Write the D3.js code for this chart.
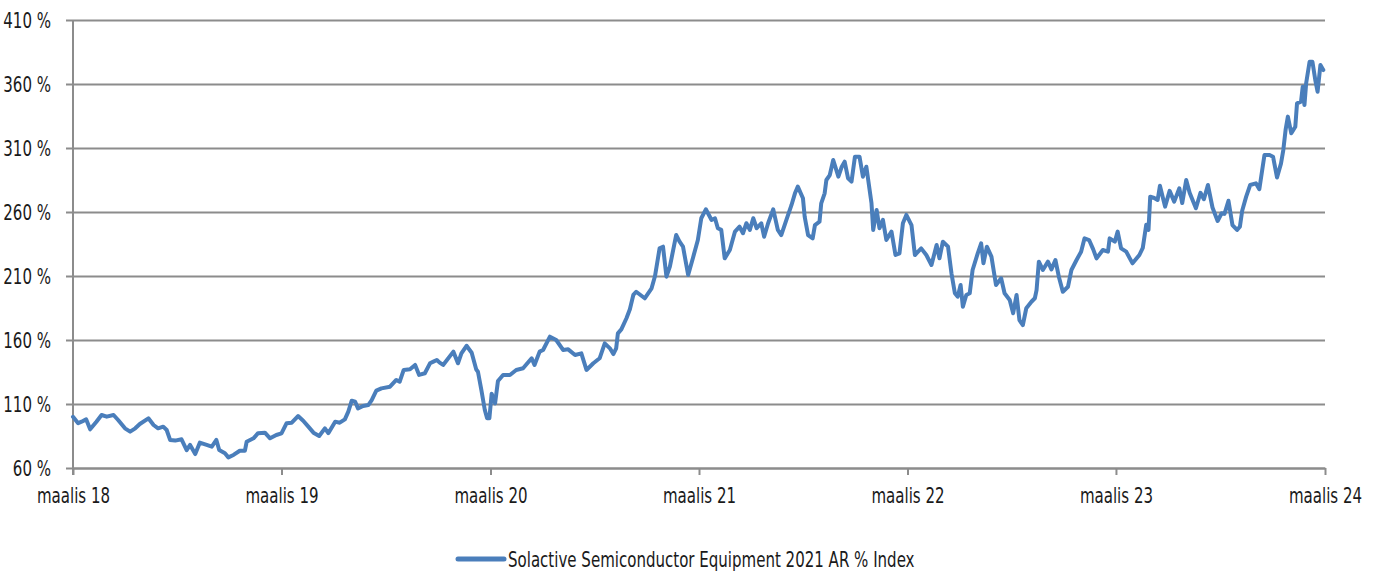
<!DOCTYPE html>
<html>
<head>
<meta charset="utf-8">
<script src="https://cdn.jsdelivr.net/npm/d3@7"></script>
<style>
  html, body { margin: 0; padding: 0; background: #ffffff; }
  svg { display: block; }
  text { font-family: "DejaVu Sans Condensed", "DejaVu Sans", sans-serif; font-stretch: condensed; fill: #1a1a1a; }
</style>
</head>
<body>
<svg id="chart" width="1374" height="575"></svg>
<script>
// ---- Data ----
const startDate = "2018-03-01";
const endDate = "2024-03-01";
// days since 1 March 2018
const days = [0,9,15,23,30,41,50,59,71,79,91,100,109,117,132,141,149,158,164,170,179,190,199,205,214,222,234,243,251,256,266,272,281,292,301,304,316,324,336,345,356,365,374,383,394,403,412,421,431,441,447,459,467,476,482,488,494,499,508,517,523,531,540,555,566,572,579,590,599,606,616,625,631,637,642,648,666,674,680,689,698,706,709,715,721,725,729,733,739,744,753,765,776,788,803,808,817,823,835,846,858,867,879,890,899,911,922,931,940,946,951,954,960,969,975,981,986,1001,1013,1019,1027,1033,1039,1045,1056,1062,1068,1077,1086,1094,1100,1108,1118,1124,1129,1135,1141,1150,1159,1167,1173,1179,1185,1191,1197,1205,1210,1217,1226,1234,1240,1249,1258,1264,1269,1278,1281,1287,1295,1299,1307,1310,1316,1319,1325,1331,1340,1346,1351,1357,1363,1369,1377,1383,1389,1398,1401,1407,1412,1418,1424,1433,1440,1447,1453,1459,1468,1474,1485,1494,1503,1512,1517,1523,1532,1538,1544,1549,1554,1558,1564,1570,1575,1584,1590,1594,1600,1608,1616,1625,1631,1640,1646,1652,1657,1663,1669,1678,1684,1687,1691,1698,1707,1713,1720,1726,1733,1742,1748,1757,1765,1771,1779,1786,1792,1803,1812,1815,1824,1829,1835,1844,1850,1855,1867,1873,1879,1883,1886,1893,1899,1903,1912,1920,1928,1937,1942,1949,1955,1966,1974,1980,1987,1995,2004,2011,2016,2023,2030,2038,2043,2047,2054,2061,2071,2077,2086,2095,2101,2108,2115,2119,2123,2127,2133,2140,2143,2150,2153,2156,2159,2165,2170,2175,2179,2184,2189];
const indexValues = [100,95,96.2,98,90.2,96.2,101.4,100.1,101.4,97.5,91,88.4,91,94.4,98.8,93.6,91,92.3,89.7,81.9,81.4,82.4,74,78,70.9,79.8,78,76.7,81.9,74,71.5,68.3,70.2,73.5,73.5,80.5,83.2,87.2,87.6,83.2,85.8,87.1,95,95.4,100.6,96.9,92.3,87.6,85,91,87.2,96.2,95.4,98,104,112.6,111.8,106.6,108.4,109.2,113.1,120.4,122.2,123.5,128.8,127.4,136.6,137.1,140.5,132.7,134,141.8,143.1,144.4,142.3,140.5,150.9,141.8,149.6,155.5,150,137,135.2,120.9,105.3,98.8,98.8,118,110.5,128,132.7,132.7,136.6,137.9,145.7,140.5,150.9,152.2,162.6,160,152.2,152.7,148.3,149.6,136.6,141.8,145.7,157.4,153.5,149,153.5,165.2,168.3,177,184,195.2,197.7,192.6,200.4,210,231.6,232.9,209.5,217.3,242,236.8,232.9,210.8,225.1,238.1,255.1,262.1,253.8,255.1,247.3,246,223.8,230.3,244.7,248.5,243.4,251.2,246,255.1,247.3,251.2,240.7,251.2,262.1,246,242,253.8,265.5,274.6,279.8,270.7,256.4,242,239.4,249.8,252.4,266.8,274.6,285,288.9,300.6,287.6,295.4,299.3,286.3,283.7,303.2,303.2,287.6,295.4,266.8,246,261.6,247.3,253.8,238.1,244.7,226.4,227.7,251.2,257.7,249.8,226.4,231.6,226.4,218.6,234.2,223.8,236.8,232.9,212.1,196.5,193.9,203,186,195.2,196.5,214.7,227.7,235.5,219.9,232.9,225.1,203,208.2,196.5,191.3,180.9,195.2,175.6,171.7,184.8,189.9,192.6,199,221.2,214.7,221.2,215.2,222.5,209.5,197.7,201.6,214.7,222.5,229,239.4,238.1,231,223.8,230.3,229,239.4,236.8,244.7,231.6,229,224,219.9,226.4,232,250,246,272,271,269.4,280.5,264.2,276.5,268.1,278.5,267,285,275,262.9,275,270,281.1,263.5,253,259,258.5,268.8,249.8,246,248.5,261,272,281.1,282.4,277.8,304.5,304.5,303.2,287,298,308.4,324.1,334.5,321.5,326.6,344.9,346.2,357.9,343.6,360.6,377.4,377.4,363.1,354,374.8,370.9];
const yTicks = [60,110,160,210,260,310,360,410];
const xTickLabels = ["maalis 18","maalis 19","maalis 20","maalis 21","maalis 22","maalis 23","maalis 24"];
const seriesName = "Solactive Semiconductor Equipment 2021 AR % Index";

// ---- Layout ----
const mLeft = 73, mRight = 1325, mTop = 20, mBottom = 468;
const svg = d3.select("#chart");
const parse = d3.timeParse("%Y-%m-%d");
const d0 = parse(startDate), d1 = parse(endDate);

const x = d3.scaleTime().domain([d0, d1]).range([mLeft, mRight]);
const y = d3.scaleLinear().domain([60, 410]).range([mBottom, mTop]);

const data = days.map((d, i) => ({ date: d3.timeDay.offset(d0, d), value: indexValues[i] }));
const tickDates = xTickLabels.map((_, i) => d3.timeYear.offset(d0, i));

const gridColor = "#8c8c8c";
const fontFam = "'DejaVu Sans Condensed', 'DejaVu Sans', sans-serif";
const fSize = 22;

// gridlines + y ticks
const yAxis = d3.axisLeft(y).tickValues(yTicks).tickSize(-(mRight - mLeft)).tickSizeOuter(0)
  .tickFormat(d => d + " %").tickPadding(22);
const gy = svg.append("g").attr("transform", `translate(${mLeft},0)`).call(yAxis);
gy.select(".domain").remove();
gy.selectAll(".tick line").attr("x1", -7).attr("stroke", gridColor).attr("stroke-width", 2);
gy.selectAll(".tick text").attr("font-size", fSize).attr("dy", "0.36em").attr("fill", "#1a1a1a")
  .attr("font-family", fontFam);

// x axis
const xAxis = d3.axisBottom(x).tickValues(tickDates).tickSize(7).tickSizeOuter(0)
  .tickFormat((d, i) => xTickLabels[i]).tickPadding(12);
const gx = svg.append("g").attr("transform", `translate(0,${mBottom})`).call(xAxis);
gx.select(".domain").attr("stroke", gridColor).attr("stroke-width", 2);
gx.selectAll(".tick line").attr("stroke", gridColor).attr("stroke-width", 2);
gx.selectAll(".tick text").attr("font-size", fSize).attr("fill", "#1a1a1a").attr("font-family", fontFam);

// y axis line
svg.append("line").attr("x1", mLeft).attr("x2", mLeft).attr("y1", mTop).attr("y2", mBottom + 7)
  .attr("stroke", gridColor).attr("stroke-width", 2);

// series line
const line = d3.line().x(d => x(d.date)).y(d => y(d.value)).curve(d3.curveLinear);
svg.append("path").datum(data).attr("d", line)
  .attr("fill", "none").attr("stroke", "#4a7ebb").attr("stroke-width", 4)
  .attr("stroke-linejoin", "round").attr("stroke-linecap", "round");

// legend
const lg = svg.append("g");
lg.append("line").attr("x1", 458).attr("x2", 504).attr("y1", 559).attr("y2", 559)
  .attr("stroke", "#4a7ebb").attr("stroke-width", 5).attr("stroke-linecap", "round");
const legendText = lg.append("text").attr("font-size", fSize).attr("font-family", fontFam).text(seriesName);

// Condense text horizontally to match the narrow reference font
const natural = legendText.node().getComputedTextLength();
const sx = Math.min(1, 407 / natural);
legendText.attr("transform", `translate(508,567) scale(${sx},1)`);

svg.selectAll(".tick text").each(function() {
  const t = d3.select(this);
  const tx = +t.attr("x") || 0;
  const ty = +t.attr("y") || 0;
  t.attr("transform", `translate(${tx},${ty}) scale(${sx},1)`).attr("x", 0).attr("y", 0);
});
</script>
</body>
</html>
